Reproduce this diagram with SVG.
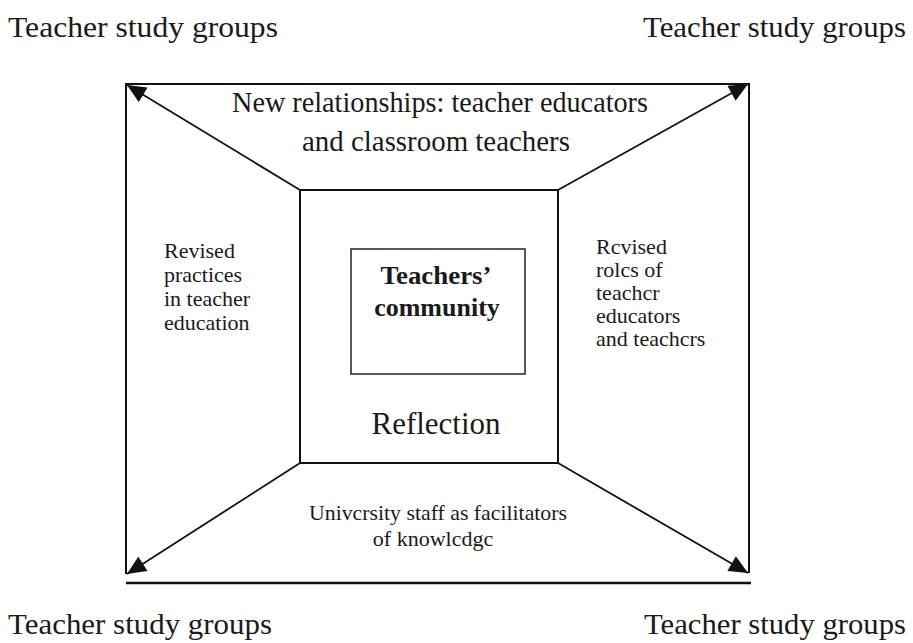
<svg xmlns="http://www.w3.org/2000/svg" width="913" height="643" viewBox="0 0 913 643">
  <style>
    .t { font-family: "Liberation Serif", "DejaVu Serif", serif; fill: #1a1a1a; }
    .corner { font-size: 30px; }
    .top { font-size: 29px; }
    .side { font-size: 22px; }
    .core { font-size: 26px; font-weight: bold; }
    .refl { font-size: 31px; }
    .bottom { font-size: 22px; }
    .frame { fill: none; stroke: #111; stroke-width: 2; }
    .inner { fill: none; stroke: #222; stroke-width: 1.5; }
    .link { stroke: #111; stroke-width: 1.8; marker-end: url(#tri); }
  </style>
  <defs>
    <marker id="tri" viewBox="0 0 20 18" refX="20" refY="9" markerWidth="20" markerHeight="17" markerUnits="userSpaceOnUse" orient="auto">
      <path d="M0,0 L20,9 L0,18 Z" fill="#111"/>
    </marker>
  </defs>
  <rect width="913" height="643" fill="#fff"/>

  <g font-family="Liberation Serif, DejaVu Serif, serif">
  <!-- corner labels -->
  <g id="corner-top-left"><text class="t corner" x="8" y="37" textLength="270" lengthAdjust="spacingAndGlyphs">Teacher study groups</text></g>
  <g id="corner-top-right"><text class="t corner" x="643" y="37" textLength="263" lengthAdjust="spacingAndGlyphs">Teacher study groups</text></g>
  <g id="corner-bottom-left"><text class="t corner" x="8" y="634" textLength="264" lengthAdjust="spacingAndGlyphs">Teacher study groups</text></g>
  <g id="corner-bottom-right"><text class="t corner" x="644" y="634" textLength="262" lengthAdjust="spacingAndGlyphs">Teacher study groups</text></g>

  <!-- outer frame -->
  <g id="outer-frame">
    <path class="frame" d="M126,574 L126,84 L749,84 L749,573"/>
    <line x1="126" y1="583" x2="751" y2="583" stroke="#111" stroke-width="2.5"/>
  </g>

  <!-- middle box: Reflection -->
  <g id="reflection">
    <rect class="frame" x="300" y="190" width="258" height="273"/>
    <text class="t refl" x="436" y="434" text-anchor="middle" textLength="129" lengthAdjust="spacingAndGlyphs">Reflection</text>
  </g>

  <!-- inner box: Teachers' community -->
  <g id="teachers-community">
    <rect class="inner" x="351" y="249" width="174" height="125"/>
    <text class="t core" x="436" y="284" text-anchor="middle" textLength="111" lengthAdjust="spacingAndGlyphs">Teachers’</text>
    <text class="t core" x="437" y="316" text-anchor="middle">community</text>
  </g>

  <!-- connectors from the reflection box to the corners -->
  <g id="connectors">
    <line class="link" x1="300" y1="190" x2="127" y2="85"/>
    <line class="link" x1="558" y1="190" x2="748" y2="84"/>
    <line class="link" x1="300" y1="463" x2="127" y2="574"/>
    <line class="link" x1="558" y1="463" x2="748" y2="573"/>
  </g>

  <!-- region labels -->
  <g id="label-top">
    <text class="t top" x="440" y="112" text-anchor="middle" textLength="416" lengthAdjust="spacingAndGlyphs">New relationships: teacher educators</text>
    <text class="t top" x="436" y="151" text-anchor="middle" textLength="268" lengthAdjust="spacingAndGlyphs">and classroom teachers</text>
  </g>
  <g id="label-left">
    <text class="t side" x="164" y="258">Revised</text>
    <text class="t side" x="164" y="282">practices</text>
    <text class="t side" x="164" y="306">in teacher</text>
    <text class="t side" x="164" y="330">education</text>
  </g>
  <g id="label-right">
    <text class="t side" x="596" y="254">Rcvised</text>
    <text class="t side" x="596" y="277">rolcs of</text>
    <text class="t side" x="596" y="300">teachcr</text>
    <text class="t side" x="596" y="323">educators</text>
    <text class="t side" x="596" y="346">and teachcrs</text>
  </g>
  <g id="label-bottom">
    <text class="t bottom" x="438" y="520" text-anchor="middle" textLength="258" lengthAdjust="spacingAndGlyphs">Univcrsity staff as facilitators</text>
    <text class="t bottom" x="433" y="546" text-anchor="middle">of knowlcdgc</text>
  </g>
  </g>
</svg>
